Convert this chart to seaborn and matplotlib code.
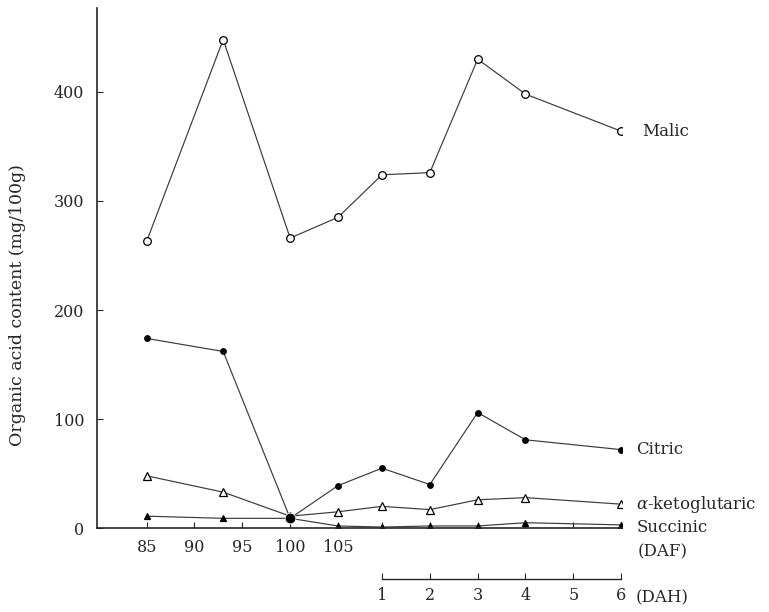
import matplotlib.pyplot as plt
import pandas as pd
import seaborn as sns

# Sampling days: days after flowering (DAF), then days after harvest (DAH)
daf_days = [85, 93, 100, 105]
dah_days = [1, 2, 3, 4, 6]

# Organic acid content (mg/100g)
malic = [263, 448, 266, 285, 324, 326, 430, 398, 364]
citric = [174, 162, 9, 39, 55, 40, 106, 81, 72]
ketoglutaric = [48, 33, 11, 15, 20, 17, 26, 28, 22]
succinic = [11, 9, 9, 2, 1, 2, 2, 5, 3]

acid_names = ['Malic', 'Citric', r'$\alpha$-ketoglutaric', 'Succinic']
daf_ticks = [85, 90, 95, 100, 105]
dah_ticks = [1, 2, 3, 4, 5, 6]
y_ticks = [0, 100, 200, 300, 400]


# DAH scale continues after the DAF scale, one DAH day ~ 5 DAF days
def dah_pos(d):
    return 109.6 + 5.0 * (d - 1)


xpos = daf_days + [dah_pos(d) for d in dah_days]
rows = []
for name, vals in zip(acid_names, [malic, citric, ketoglutaric, succinic]):
    for x, v in zip(xpos, vals):
        rows.append({'x': x, 'value': v, 'acid': name})
df = pd.DataFrame(rows)

sns.set_style('ticks')
plt.rcParams['font.family'] = ['DejaVu Serif']
plt.rcParams['mathtext.fontset'] = 'dejavuserif'

fig = plt.figure(figsize=(7.69, 6.12), dpi=100)
ax = fig.add_axes([0.126, 0.137, 0.683, 0.850])

styles = {
    'Malic': dict(marker='o', markerfacecolor='white', markersize=5.5),
    'Citric': dict(marker='o', markerfacecolor='black', markersize=4),
    r'$\alpha$-ketoglutaric': dict(marker='^', markerfacecolor='white', markersize=6),
    'Succinic': dict(marker='^', markerfacecolor='black', markersize=4.5),
}
label_offset = {'Malic': (15, 0), 'Citric': (11, 0),
                r'$\alpha$-ketoglutaric': (11, 0), 'Succinic': (11, -2)}

for name in acid_names:
    sub = df[df['acid'] == name]
    sns.lineplot(data=sub, x='x', y='value', color='#3a3a3a', linewidth=0.85,
                 markeredgecolor='black', markeredgewidth=0.9, ax=ax,
                 **styles[name])
    last = sub.iloc[-1]
    ax.annotate(name, xy=(last['x'], last['value']), xytext=label_offset[name],
                textcoords='offset points', va='center', ha='left',
                fontsize=12, annotation_clip=False)

# the three lower curves meet at 100 DAF, drawn as one large dot
meet = df[(df['acid'] == 'Citric') & (df['x'] == 100)]
sns.scatterplot(data=meet, x='x', y='value', color='black', s=60, ax=ax,
                zorder=5, legend=False)

ax.set_xlim(79.8, 134.7)
ax.set_ylim(0, 477)
ax.set_xticks(daf_ticks)
ax.set_xticks([dah_pos(d) for d in dah_ticks], minor=True)
ax.set_yticks(y_ticks)
ax.tick_params(axis='both', which='both', direction='in', length=4,
               width=0.8, labelsize=11.5)
ax.tick_params(axis='y', pad=9)
ax.tick_params(axis='x', pad=8)
ax.set_xlabel('')
ax.set_ylabel('')
sns.despine(ax=ax)
for s in ['left', 'bottom']:
    ax.spines[s].set_linewidth(1.2)

ax.annotate('(DAF)', xy=(1, 0), xycoords='axes fraction', xytext=(11, -17),
            textcoords='offset points', va='center', ha='left', fontsize=12)

# second scale for days after harvest
secax = ax.secondary_xaxis(-0.098)
secax.set_xticks([dah_pos(d) for d in dah_ticks],
                 labels=[str(d) for d in dah_ticks])
secax.spines['bottom'].set_bounds(dah_pos(1), dah_pos(6))
secax.spines['bottom'].set_linewidth(1.0)
secax.tick_params(direction='in', length=4, width=0.8, labelsize=11.5, pad=6)
ax.annotate('(DAH)', xy=(1, 0), xycoords='axes fraction', xytext=(10, -50),
            textcoords='offset points', va='center', ha='left', fontsize=12)

fig.text(18 / 769, 1 - 305 / 612, 'Organic acid content (mg/100g)',
         rotation=90, va='center', ha='center', fontsize=12.5)

fig.savefig('out.png', dpi=100)
